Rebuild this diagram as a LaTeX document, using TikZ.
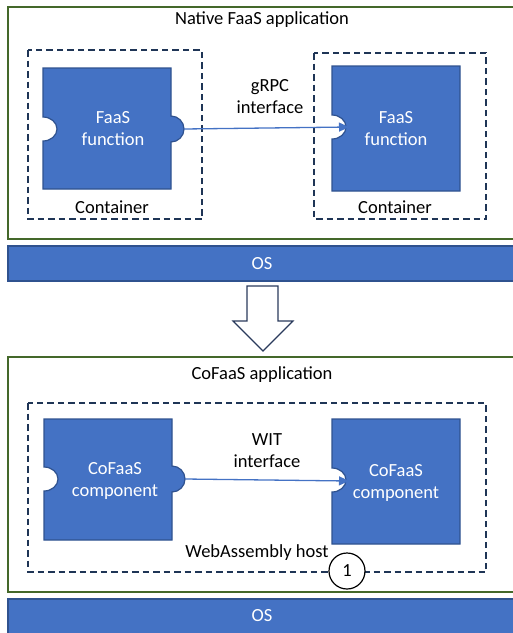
\documentclass[tikz,border=0pt]{standalone}
\usepackage{fontspec}
\setmainfont{Carlito}
\usetikzlibrary{arrows.meta}
\definecolor{compblue}{HTML}{4472C4}
\definecolor{compedge}{HTML}{2F528F}
\definecolor{appgreen}{HTML}{44682A}
\definecolor{dashnavy}{HTML}{1F3556}
\definecolor{darrow}{HTML}{2A3A5C}
\newcommand\plugbox[5]{%
  \filldraw[comp] (#1,-#2) -- (#3,-#2) -- (#3,-#5+13)
    arc[start angle=90,end angle=-90,radius=13] -- (#3,-#4) -- (#1,-#4) -- (#1,-#5-12)
    arc[start angle=-90,end angle=90,x radius=14,y radius=12] -- cycle;}
\newcommand\sockbox[5]{%
  \filldraw[comp] (#1,-#2) -- (#3,-#2) -- (#3,-#4) -- (#1,-#4) -- (#1,-#5-12)
    arc[start angle=-90,end angle=90,x radius=14,y radius=12] -- cycle;}
\begin{document}
\begin{tikzpicture}[x=1pt,y=1pt,
  comp/.style={fill=compblue,draw=compedge,line width=1.2pt},
  app/.style={draw=appgreen,line width=1.3pt},
  dashbox/.style={draw=dashnavy,line width=1.3pt,dash pattern=on 6.5pt off 4pt},
  osbar/.style={fill=compblue,draw=compedge,line width=1.2pt},
  lbl/.style={font=\fontsize{18.5}{22}\selectfont,align=center,inner sep=0pt},
  wlbl/.style={lbl,text=white},
  link/.style={draw=compblue,line width=1.3pt,-{Triangle[length=10pt,width=9pt]}}]
\useasboundingbox (0,0) rectangle (513,-633);
% top application
\draw[app] (8,-7) rectangle (516,-239);
\node[lbl] (natapp) at (262,-20) {Native FaaS application};
\draw[dashbox] (28,-50) rectangle (202,-219);
\draw[dashbox] (314,-53) rectangle (486,-219);
\plugbox{43}{68}{171}{189}{129}
\sockbox{332}{66}{460}{191}{127}
\node[wlbl] (f1) at (113,-129) {FaaS\\function};
\node[wlbl] (f2) at (396,-128.5) {FaaS\\function};
\node[lbl] (c1) at (112,-207) {Container};
\node[lbl] (c2) at (395,-207) {Container};
\node[lbl] (grpc) at (270,-97) {gRPC\\interface};
\coordinate (p1) at (184,-129);
\coordinate (s1) at (349,-127);
\draw[link] (p1) -- (s1);
% OS 1
\draw[osbar] (8,-246) rectangle (516,-281);
\node[wlbl] (os1) at (262,-264) {OS};
% block arrow
\draw[fill=white,draw=darrow,line width=1.2pt] (247,-286) -- (278,-286) -- (278,-321) -- (293,-321)
  -- (263,-351) -- (233,-321) -- (247,-321) -- cycle;
% bottom application
\draw[app] (8,-357) rectangle (516,-592);
\node[lbl] (coapp) at (262,-375) {CoFaaS application};
\draw[dashbox] (28,-403) rectangle (486,-572);
\plugbox{44}{419}{172}{540}{479}
\sockbox{332}{419}{460}{544}{480}
\node[wlbl] (k1) at (115,-481) {CoFaaS\\component};
\node[wlbl] (k2) at (396,-483) {CoFaaS\\component};
\node[lbl] (wit) at (267,-451) {WIT\\interface};
\coordinate (p2) at (185,-479);
\coordinate (s2) at (349,-481);
\draw[link] (p2) -- (s2);
\node[lbl] (wah) at (257,-553) {WebAssembly host};
\node[lbl,circle,draw=black,fill=white,line width=1.2pt,minimum size=36pt] (one) at (347,-571) {1};
% OS 2
\draw[osbar] (8,-599) rectangle (516,-640);
\node[wlbl] (os2) at (262,-616) {OS};
\end{tikzpicture}
\end{document}
